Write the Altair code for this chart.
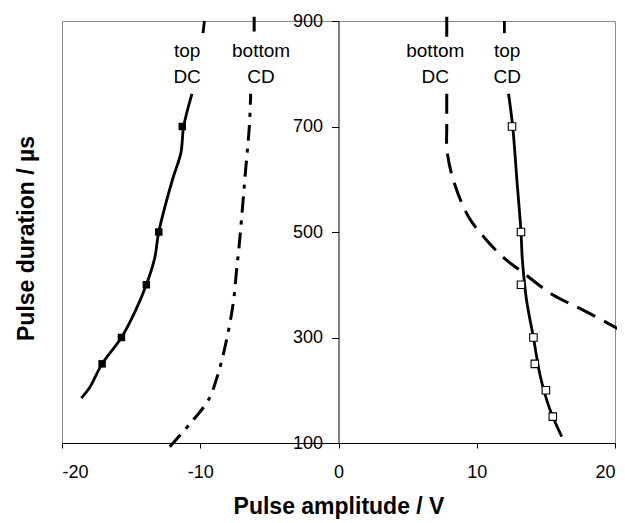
import altair as alt
import pandas as pd

# ---- data ----
topDC_x = [-18.6, -18.0, -17.1, -15.7, -14.7, -13.9, -13.3, -13.0, -12.0, -11.4, -11.2, -10.6, -9.8, -9.7]
topDC_y = [185, 205, 250, 300, 350, 400, 450, 500, 600, 650, 700, 762, 877, 900]
topDC_seg = [0] * 12 + [1] * 2
topDC_pts_x = [-17.1, -15.7, -13.9, -13.0, -11.3]
topDC_pts_y = [250, 300, 400, 500, 700]

botCD_x = [-12.2, -10.5, -9.4, -8.7, -8.1, -7.6, -7.35, -7.2, -6.7, -6.45, -6.35, -6.1, -6.1]
botCD_y = [93, 144, 182, 232, 295, 368, 434, 470, 623, 700, 762, 880, 908]
botCD_seg = [0] * 11 + [1] * 2

botDC_x = [7.83, 7.83, 7.83, 7.83, 7.85, 8.3, 9.4, 10.7, 12.0, 13.1, 15.5, 17.7, 20.4]
botDC_y = [908, 870, 762, 700, 655, 599, 529, 485, 450, 428, 381, 352, 314]
botDC_seg = [0, 0] + [1] * 11

topCD_x = [16.15, 15.3, 14.6, 14.1, 13.6, 13.3, 13.2, 12.9, 12.6, 12.3, 12.0, 12.0]
topCD_y = [112, 163, 226, 300, 371, 447, 500, 600, 700, 762, 877, 900]
topCD_seg = [0] * 10 + [1] * 2
topCD_pts_x = [12.55, 13.2, 13.2, 14.1, 14.2, 15.0, 15.5]
topCD_pts_y = [700, 500, 400, 300, 250, 200, 150]

label_text = ["top", "DC", "bottom", "CD", "bottom", "DC", "top", "CD"]
label_x = [-10.95, -10.95, -5.6, -5.6, 7.0, 7.0, 12.2, 12.2]
label_y = [832, 783, 832, 783, 832, 783, 832, 783]

x_ticks = [-20, -10, 0, 10, 20]
y_ticks = [100, 300, 500, 700, 900]

FONT = "Liberation Sans"
W, H = 553, 422


def line_df(xs, ys, segs):
    return pd.DataFrame({"x": xs, "y": ys, "seg": segs, "i": list(range(len(xs)))})


xscale = alt.Scale(domain=[-20, 20], nice=False, zero=False)
yscale = alt.Scale(domain=[100, 900], nice=False, zero=False)

xenc = alt.X("x:Q", scale=xscale, axis=alt.Axis(
    title="Pulse amplitude / V", values=x_ticks, grid=False,
    labelExpr="toString(datum.value)",
    domainColor="black", tickColor="black", tickSize=5,
    labelPadding=15, labelFontSize=18, labelFont=FONT, labelColor="black",
    titleFont=FONT, titleFontSize=23, titleFontWeight="bold", titleColor="black",
    titleBaseline="alphabetic", titleY=70))
yenc = alt.Y("y:Q", scale=yscale, axis=alt.Axis(
    title="Pulse duration /  µs", values=y_ticks, grid=False, offset=-(W / 2),
    domainColor="black", tickColor="black", tickSize=7,
    labelPadding=9, labelFontSize=18, labelFont=FONT, labelColor="black",
    titleFont=FONT, titleFontSize=23, titleFontWeight="bold", titleColor="black",
    titleAngle=-90, titleBaseline="alphabetic", titleAlign="center",
    titleX=-305.5, titleY=217))


def line_layer(df, dash=None, width=3):
    kw = dict(color="black", strokeWidth=width, strokeCap="butt", interpolate="catmull-rom")
    if dash:
        kw["strokeDash"] = dash
    return alt.Chart(df).mark_line(**kw).encode(
        x=xenc, y=yenc, detail="seg:N", order="i:Q")


l1 = line_layer(line_df(topDC_x, topDC_y, topDC_seg), width=2.8)
l2 = line_layer(line_df(botCD_x, botCD_y, botCD_seg), dash=[16, 8, 4, 8])
l3 = line_layer(line_df(botDC_x, botDC_y, botDC_seg), dash=[20, 10])
l4 = line_layer(line_df(topCD_x, topCD_y, topCD_seg), width=2.8)

p1 = alt.Chart(pd.DataFrame({"x": topDC_pts_x, "y": topDC_pts_y})).mark_square(
    size=56, color="black", opacity=1).encode(x=xenc, y=yenc)
p2 = alt.Chart(pd.DataFrame({"x": topCD_pts_x, "y": topCD_pts_y})).mark_square(
    size=56, filled=True, fill="white", stroke="black", strokeWidth=1.1, opacity=1).encode(x=xenc, y=yenc)

txt = alt.Chart(pd.DataFrame({"t": label_text, "x": label_x, "y": label_y})).mark_text(
    font=FONT, fontSize=19, color="black", align="center", baseline="alphabetic").encode(
    x=xenc, y=yenc, text="t:N")

chart = alt.layer(l1, l2, l3, l4, p1, p2, txt).properties(
    width=W, height=H,
    autosize=alt.AutoSizeParams(type="none"),
    padding={"left": 54, "top": 13, "right": 2, "bottom": 80},
).configure_view(stroke="#8a8a8a", strokeWidth=1)

chart.save("out.html", embed_options={"renderer": "svg", "actions": False})
